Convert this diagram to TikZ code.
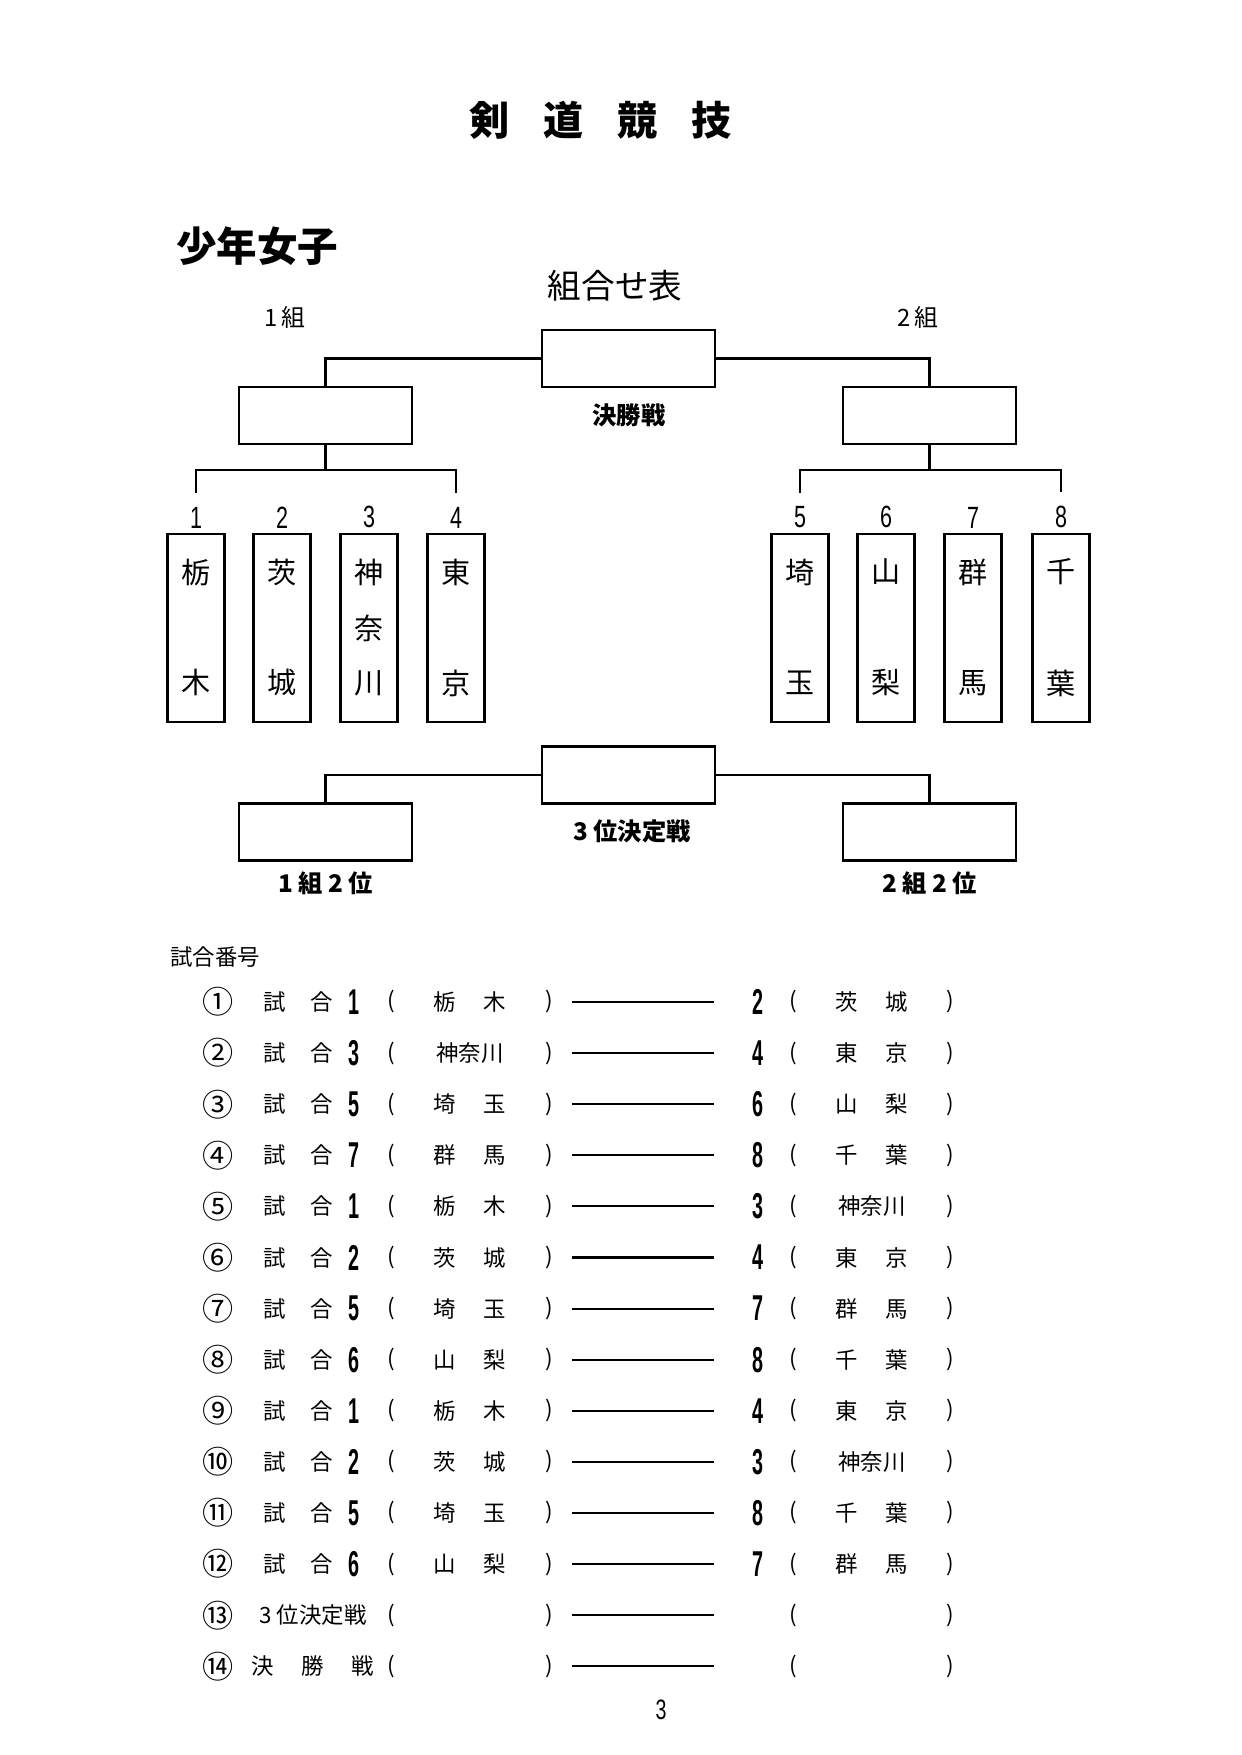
\documentclass[tikz,border=0pt]{standalone}
\usepackage{fontspec}
\setmainfont{Noto Sans CJK JP}
\newfontfamily\numfont[FakeStretch=0.7]{Liberation Sans}
\newfontfamily\listnum[FakeStretch=0.55]{Liberation Sans}
\usetikzlibrary{positioning}
\newcommand{\gp}{\hspace{0.47cm}}

\begin{document}
\begin{tikzpicture}[x=0.016922cm,y=-0.016922cm,
    every node/.style={inner sep=0pt,outer sep=0pt},
    bigbox/.style={draw,line width=1pt,minimum width=2.93cm,minimum height=0.965cm},
    teambox/.style={draw,line width=1pt,minimum width=0.965cm,minimum height=3.18cm},
    ln/.style={line width=1pt},
    boldlab/.style={font=\bfseries\fontsize{11.7}{12}\selectfont},
    numlab/.style={font=\numfont\fontsize{14.8}{15}\selectfont},
    tchar/.style={font=\fontsize{14}{14}\selectfont},
    lt/.style={font=\fontsize{10.8}{11}\selectfont},
    circ/.style={font=\fontsize{15}{15}\selectfont},
    lnum/.style={font=\listnum\bfseries\fontsize{17.3}{18}\selectfont}]
  \useasboundingbox (0,0) rectangle (1241,1755);

  % Headings
  \foreach \c [count=\k] in {剣,道,競,技}
    \node[font=\bfseries\fontsize{19.3}{20}\selectfont] (ttl\k) at (490+74*\k-74,120) {\c};
  \node[font=\bfseries\fontsize{19.5}{20}\selectfont] (cat) at (257,246) {少年女子};
  \node[font=\fontsize{16.2}{17}\selectfont] (sheet) at (615,286) {組合せ表};
  \node[font=\fontsize{11.5}{12}\selectfont] (hdA) at (285,317) {1\,組};
  \node[font=\fontsize{11.5}{12}\selectfont] (hdB) at (918,317) {2\,組};

  % Final and group winners
  \node[bigbox] (fin) at (628.5,358.5) {};
  \node[bigbox] (grpA) at (325.5,415.5) {};
  \node[bigbox] (grpB) at (929.5,415.5) {};
  \node[boldlab] (lbFin) at (629,415) {決勝戦};
  \draw[ln] (fin.west) -| (grpA.north);
  \draw[ln] (fin.east) -| (grpB.north);

  % Teams
  \foreach \k/\x/\a/\m/\b in {1/196/栃//木,2/282/茨//城,3/369/神/奈/川,4/456/東//京,
      5/800/埼//玉,6/886/山//梨,7/973/群//馬,8/1061/千//葉}{
    \node[teambox] (t\k) at (\x,628) {};
    \node[numlab,above=0.1cm of t\k] (n\k) {\k};
    \node[tchar] at ([yshift=-0.643cm]t\k.north) {\a};
    \node[tchar] at (t\k) {\m};
    \node[tchar] at ([yshift=0.66cm]t\k.south) {\b};
  }
  \coordinate (jA) at (325.5,470);
  \coordinate (jB) at (929.5,470);
  \draw[ln] (grpA.south) -- (jA);
  \draw[ln] (grpB.south) -- (jB);
  \draw[ln] ([yshift=0.24cm]n1.north) |- (jA) -| ([yshift=0.24cm]n4.north);
  \draw[ln] ([yshift=0.24cm]n5.north) |- (jB) -| ([yshift=0.24cm]n8.north);

  % Third place
  \node[bigbox] (third) at (628.5,775) {};
  \node[bigbox] (secA) at (325.5,832) {};
  \node[bigbox] (secB) at (929.5,832) {};
  \node[boldlab] (lbThird) at (632,831) {3 位決定戦};
  \node[boldlab,below=0.19cm of secA] (lbA) {1 組 2 位};
  \node[boldlab,below=0.19cm of secB] (lbB) {2 組 2 位};
  \draw[ln] (third.west) -| (secA.north);
  \draw[ln] (third.east) -| (secB.north);

  % Match list
  \node[lt] (lsHead) at (215,957) {試合番号};
  \foreach \k/\c/\a/\ta/\b/\tb in {1/①/1/栃\gp 木/2/茨\gp 城,2/②/3/神奈川/4/東\gp 京,
      3/③/5/埼\gp 玉/6/山\gp 梨,4/④/7/群\gp 馬/8/千\gp 葉,
      5/⑤/1/栃\gp 木/3/神奈川,6/⑥/2/茨\gp 城/4/東\gp 京,
      7/⑦/5/埼\gp 玉/7/群\gp 馬,8/⑧/6/山\gp 梨/8/千\gp 葉,
      9/⑨/1/栃\gp 木/4/東\gp 京,10/⑩/2/茨\gp 城/3/神奈川,
      11/⑪/5/埼\gp 玉/8/千\gp 葉,12/⑫/6/山\gp 梨/7/群\gp 馬}{
    \pgfmathsetmacro\yy{1002+51.1*(\k-1)}
    \node[circ] (c\k) at (218,\yy) {\c};
    \node[lt] (g\k) at (298,\yy) {試\hspace{0.42cm}合};
    \node[lnum] (a\k) at (354,\yy) {\a};
    \node[lt] (lp\k) at (391,\yy) {(};
    \node[lt] (na\k) at (470,\yy) {\ta};
    \node[lt] (rp\k) at (549,\yy) {)};
    \node[lnum] (b\k) at (758,\yy) {\b};
    \node[lt] (lq\k) at (793,\yy) {(};
    \node[lt] (nb\k) at (872,\yy) {\tb};
    \node[lt] (rq\k) at (950,\yy) {)};
    \coordinate (e\k) at (714,\yy);
    \draw[ln] ([xshift=0.32cm]rp\k.east) -- (e\k);
  }
  \foreach \k/\c/\t in {13/⑬/3 位決定戦,14/⑭/決\gp 勝\gp 戦}{
    \pgfmathsetmacro\yy{1002+51.1*(\k-1)}
    \node[circ] (c\k) at (218,\yy) {\c};
    \node[lt] (g\k) at (313,\yy) {\t};
    \node[lt] (lp\k) at (391,\yy) {(};
    \node[lt] (rp\k) at (549,\yy) {)};
    \node[lt] (lq\k) at (793,\yy) {(};
    \node[lt] (rq\k) at (950,\yy) {)};
    \coordinate (e\k) at (714,\yy);
    \draw[ln] ([xshift=0.32cm]rp\k.east) -- (e\k);
  }
  \node[font=\numfont\fontsize{13.5}{14}\selectfont] (pg) at (661,1710) {3};
\end{tikzpicture}
\end{document}
